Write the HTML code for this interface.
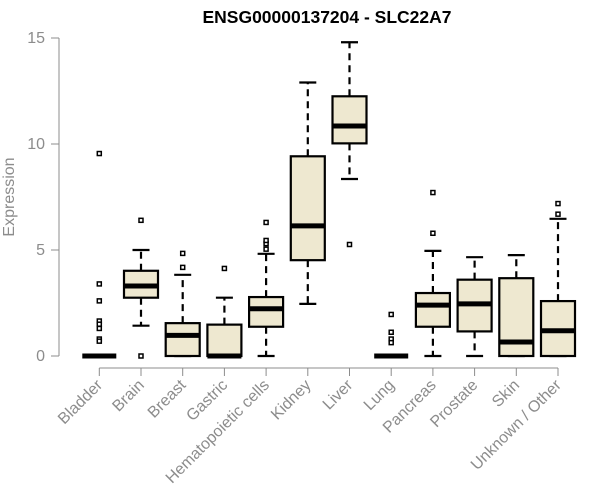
<!DOCTYPE html>
<html><head><meta charset="utf-8"><style>
body{margin:0;background:#fff}
svg{display:block;font-family:"Liberation Sans",Arial,sans-serif}
</style></head><body>
<svg id="chart" width="600" height="500">
<text x="327" y="23" text-anchor="middle" font-weight="bold" font-size="17.5">ENSG00000137204 - SLC22A7</text>
<text transform="translate(14,197) rotate(-90)" text-anchor="middle" font-size="16" fill="#8c8c8c">Expression</text>
<g id="axes"></g>
<g id="boxes"></g>
</svg>
<script>
const categories=["Bladder","Brain","Breast","Gastric","Hematopoietic cells","Kidney","Liver","Lung","Pancreas","Prostate","Skin","Unknown / Other"];
const whiskerLow=[0,1.43,0,0,0,2.46,8.35,0,0,0,0,0];
const q1=[0,2.75,0,0,1.38,4.52,10.03,0,1.38,1.16,0,0];
const median=[0,3.3,0.97,0,2.23,6.14,10.85,0,2.4,2.46,0.66,1.19];
const q3=[0,4.02,1.55,1.48,2.78,9.42,12.25,0,2.97,3.6,3.67,2.59];
const whiskerHigh=[0,5.0,3.83,2.75,4.82,12.9,14.8,0,4.96,4.66,4.76,6.47];
const outliers=[[9.55,3.4,2.6,1.65,1.5,1.3,0.8,0.7],[6.4,0],[4.18,4.84],[4.13],[5.04,5.3,5.45,6.3],[],[5.26],[1.96,1.12,0.8,0.63],[5.79,7.71],[],[],[6.69,7.19]];
const yTicks=[0,5,10,15];

const NS="http://www.w3.org/2000/svg";
const y=v=>356-v*21.2;
const x=i=>99.3+i*41.7;
const axes=document.getElementById('axes'), boxes=document.getElementById('boxes');
function mk(tag,attrs,parent){const e=document.createElementNS(NS,tag);for(const k in attrs)e.setAttribute(k,attrs[k]);parent.appendChild(e);return e;}
let a=mk('line',{x1:59,x2:59,y1:y(15),y2:y(0),stroke:'#8c8c8c'},axes);


yTicks.forEach(t=>{
  let l=mk('line',{x1:51,x2:59,y1:y(t),y2:y(t),stroke:'#8c8c8c'},axes);
  
  
  let tx=mk('text',{x:45,y:y(t)+5,'text-anchor':'end','font-size':16,fill:'#8c8c8c'},axes);
  tx.textContent=t;
  
  
});
let xa=mk('line',{x1:x(0),x2:x(categories.length-1),y1:368,y2:368,stroke:'#8c8c8c'},axes);


categories.forEach((c,i)=>{
  const cx=x(i);
  let t=mk('line',{x1:cx,x2:cx,y1:368,y2:376,stroke:'#8c8c8c'},axes);
  
  
  let lb=mk('text',{transform:`translate(${cx+4},${386}) rotate(-45)`,'text-anchor':'end','font-size':16,fill:'#8c8c8c'},axes);
  lb.textContent=c;
  
  
  const g=mk('g',{},boxes);
  
  
  const st={stroke:'#000','stroke-width':2.2};
  mk('line',Object.assign({x1:cx,x2:cx,y1:y(q3[i]),y2:y(whiskerHigh[i]),'stroke-dasharray':'7,5'},st),g);
  mk('line',Object.assign({x1:cx,x2:cx,y1:y(q1[i]),y2:y(whiskerLow[i]),'stroke-dasharray':'7,5'},st),g);
  mk('line',Object.assign({x1:cx-8.5,x2:cx+8.5,y1:y(whiskerHigh[i]),y2:y(whiskerHigh[i])},st),g);
  mk('line',Object.assign({x1:cx-8.5,x2:cx+8.5,y1:y(whiskerLow[i]),y2:y(whiskerLow[i])},st),g);
  mk('rect',Object.assign({x:cx-17,y:y(q3[i]),width:34,height:Math.max(0,y(q1[i])-y(q3[i])),fill:'#eee8d0'},st),g);
  mk('line',{x1:cx-17,x2:cx+17,y1:y(median[i]),y2:y(median[i]),stroke:'#000','stroke-width':5},g);
  outliers[i].forEach(v=>{
    let p=mk('rect',{x:cx-2,y:y(v)-2,width:4,height:4,fill:'#fff',stroke:'#000','stroke-width':1.5},g);
    
    
  });
});
</script>
</body></html>
